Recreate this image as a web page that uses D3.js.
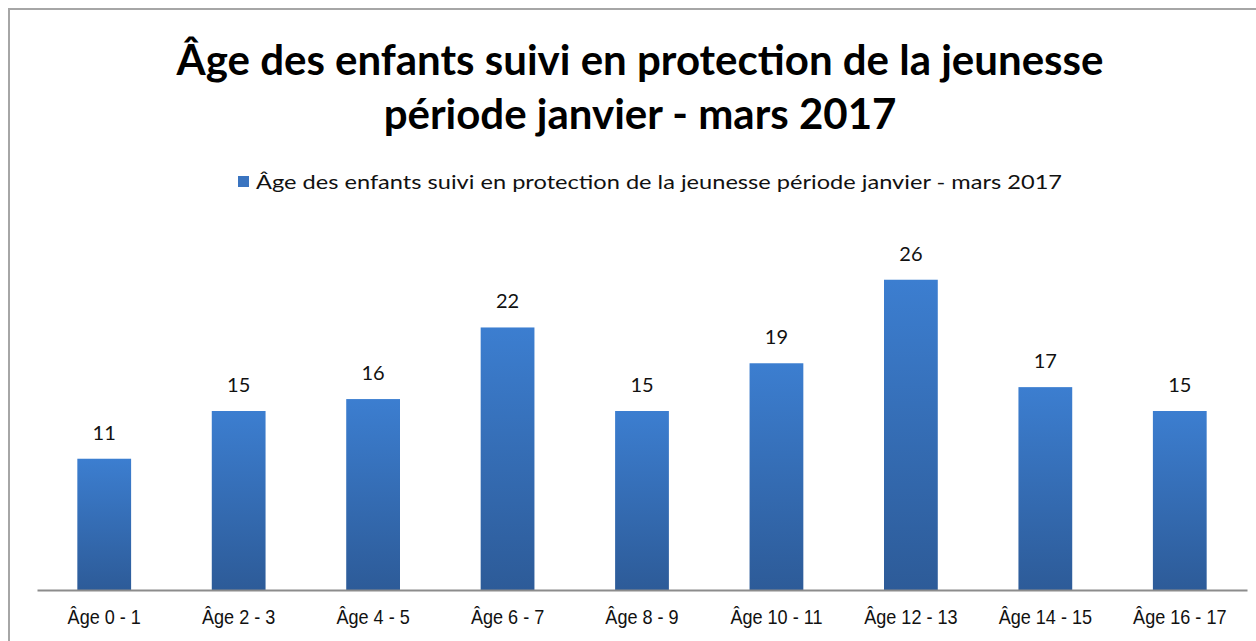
<!DOCTYPE html>
<html><head><meta charset="utf-8">
<script src="https://cdn.jsdelivr.net/npm/d3@7"></script>
<style>body{margin:0;background:#fff}svg{display:block}</style>
</head><body>
<script>
const categories = ["Âge 0 - 1","Âge 2 - 3","Âge 4 - 5","Âge 6 - 7","Âge 8 - 9","Âge 10 - 11","Âge 12 - 13","Âge 14 - 15","Âge 16 - 17"];
const values = [11,15,16,22,15,19,26,17,15];
const titleLines = ["Âge des enfants suivi en protection de la jeunesse","période janvier - mars 2017"];
const legendLabel = "Âge des enfants suivi en protection de la jeunesse période janvier - mars 2017";

const W=1256,H=641;
const svg=d3.select("body").append("svg").attr("width",W).attr("height",H);
svg.append("rect").attr("x",9).attr("y",9).attr("width",W).attr("height",H).attr("fill","#fff").attr("stroke","#a6a6a6").attr("stroke-width",2);

const defs=svg.append("defs");
const g=defs.append("linearGradient").attr("id","bg").attr("x1",0).attr("y1",0).attr("x2",0).attr("y2",1);
g.append("stop").attr("offset","0%").attr("stop-color","#3c7ed0");
g.append("stop").attr("offset","100%").attr("stop-color","#2d5b98");

const x=d3.scaleBand().domain(categories).range([37,1247]).paddingInner(0.6).paddingOuter(0.3);
const y=d3.scaleLinear().domain([0,30]).range([590,232]);

svg.selectAll("rect.bar").data(values).enter().append("rect").attr("class","bar")
 .attr("x",(d,i)=>x(categories[i])).attr("width",x.bandwidth())
 .attr("y",d=>y(d)).attr("height",d=>y(0)-y(d)).attr("fill","url(#bg)");

svg.selectAll("text.val").data(values).enter().append("text").attr("class","val")
 .attr("x",(d,i)=>x(categories[i])+x.bandwidth()/2).attr("y",d=>y(d)-19)
 .attr("text-anchor","middle").attr("font-family","Lato, 'Open Sans', sans-serif").attr("font-size",20).attr("fill","#111")
 .text(d=>d);

const ax=svg.append("g").attr("transform","translate(0,590)").call(d3.axisBottom(x).tickSize(0).tickPadding(19));
ax.select(".domain").attr("stroke","#8c8c8c").attr("stroke-width",2);
ax.selectAll("text").attr("font-family","'Liberation Sans', sans-serif").attr("font-size",21).attr("fill","#111")
 .each(function(){ const L=this.getComputedTextLength(); d3.select(this).attr("textLength",L*0.86).attr("lengthAdjust","spacingAndGlyphs"); });

svg.selectAll("text.title").data(titleLines).enter().append("text").attr("class","title")
 .attr("x",640).attr("y",(d,i)=>75+i*54).attr("text-anchor","middle")
 .attr("font-family","Lato, 'Open Sans', sans-serif").attr("font-weight","bold").attr("font-size",42).attr("fill","#000")
 .text(d=>d);

const lg=svg.append("g");
lg.append("rect").attr("x",238).attr("y",176).attr("width",11).attr("height",11).attr("fill","#3a74c0");
lg.append("text").attr("x",256).attr("y",189).attr("font-family","Lato, 'Open Sans', sans-serif").attr("font-size",20).attr("fill","#111")
 .attr("textLength",806).attr("lengthAdjust","spacingAndGlyphs").text(legendLabel);
</script>
</body></html>
